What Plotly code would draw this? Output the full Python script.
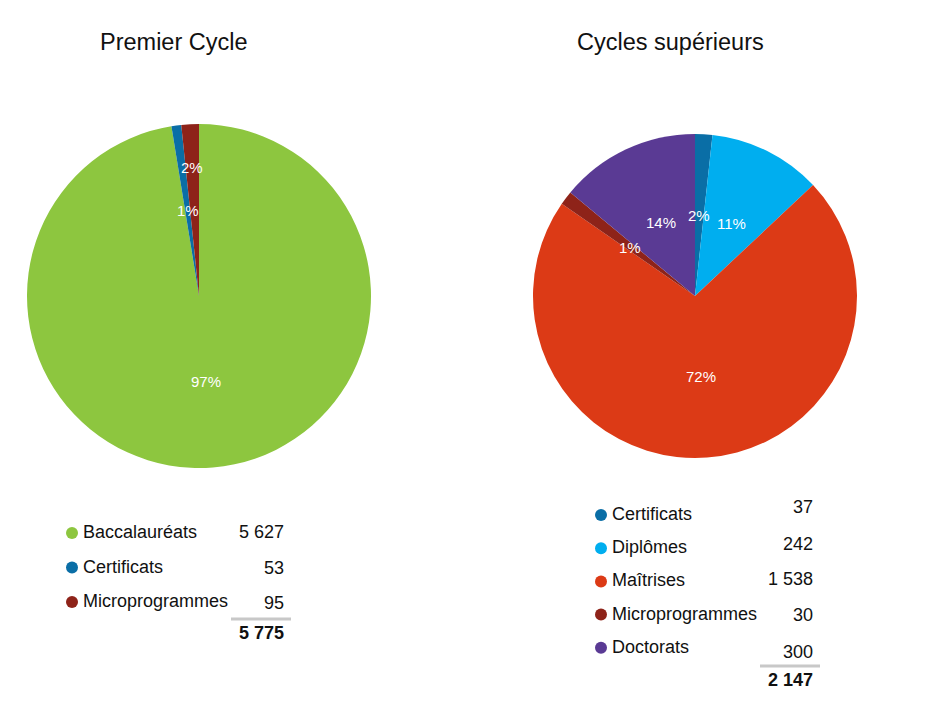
import math
import plotly.graph_objects as go

# Premier cycle
pc_labels = ["Baccalauréats", "Certificats", "Microprogrammes"]
pc_values = [5627, 53, 95]
pc_colors = ["#8DC63F", "#0A6EA6", "#8E2319"]

# Cycles supérieurs
cs_labels = ["Certificats", "Diplômes", "Maîtrises", "Microprogrammes", "Doctorats"]
cs_values = [37, 242, 1538, 30, 300]
cs_colors = ["#0A6EA6", "#00AEEF", "#DC3A16", "#8E2319", "#5A3A94"]

W, H = 946, 722
OFF = 8  # page margin of the browser


def px(x):
    return (x - OFF) / W


def py(y):
    return 1 - (y - OFF) / H


def fmt(n):
    return f"{n:,}".replace(",", " ")


annotations = []
shapes = []
fig = go.Figure()


def pie(labels, values, colors, cx, cy, r, label_r):
    fig.add_trace(go.Pie(
        labels=labels, values=values, sort=False, direction="clockwise",
        rotation=0, marker=dict(colors=colors, line=dict(width=0)),
        textinfo="none", textposition="none",
        domain=dict(x=[px(cx - r), px(cx + r)], y=[py(cy + r), py(cy - r)]),
        showlegend=False, hoverinfo="label+value+percent",
    ))
    # percent labels, placed at the slice mid-angle
    total = sum(values)
    acc = 0
    for i, v in enumerate(values):
        mid = (acc + v / 2) / total * 2 * math.pi
        acc += v
        f = label_r[i]
        annotations.append(dict(
            text=f"{round(100 * v / total)}%", showarrow=False,
            x=px(cx + f * r * math.sin(mid)), y=py(cy - f * r * math.cos(mid)),
            xanchor="center", yanchor="middle",
            font=dict(size=15, color="white")))


pie(pc_labels, pc_values, pc_colors, 199, 296, 172, [0.5, 0.5, 0.75])
pie(cs_labels, cs_values, cs_colors, 695, 296, 162, [0.5] * 5)

annotations += [
    dict(text="Premier Cycle", x=px(174), y=py(42), showarrow=False,
         xanchor="center", yanchor="middle", font=dict(size=23.5, color="#111")),
    dict(text="Cycles supérieurs", x=px(670), y=py(42), showarrow=False,
         xanchor="center", yanchor="middle", font=dict(size=23.5, color="#111")),
]


def table(labels, values, colors, dot_x, val_x, row_y, step, val_dy, line_y, total_y):
    for i, (lab, val, col) in enumerate(zip(labels, values, colors)):
        y = row_y + i * step
        shapes.append(dict(type="circle", xref="paper", yref="paper",
                           x0=px(dot_x - 6), x1=px(dot_x + 6),
                           y0=py(y + 7), y1=py(y - 5),
                           fillcolor=col, line=dict(width=0)))
        annotations.append(dict(text=lab, x=px(dot_x + 9), y=py(y), showarrow=False,
                                xanchor="left", yanchor="middle",
                                font=dict(size=18, color="#111")))
        annotations.append(dict(text=fmt(val), x=px(val_x), y=py(y + val_dy[i]),
                                showarrow=False, xanchor="right", yanchor="middle",
                                font=dict(size=18, color="#111")))
    shapes.append(dict(type="line", xref="paper", yref="paper",
                       x0=px(val_x - 55), x1=px(val_x + 5),
                       y0=py(line_y), y1=py(line_y),
                       line=dict(color="#C8C8C8", width=3)))
    annotations.append(dict(text="<b>" + fmt(sum(values)) + "</b>", x=px(val_x),
                            y=py(total_y), showarrow=False, xanchor="right",
                            yanchor="middle", font=dict(size=18, color="#111")))


table(pc_labels, pc_values, pc_colors, 72, 286, 532, 34.5, [0, 1, 2], 619, 633)
table(cs_labels, cs_values, cs_colors, 601, 815, 514, 33.2, [-7, -3, -1, 1, 5], 666, 680)

fig.update_layout(
    width=W, height=H, margin=dict(l=0, r=0, t=0, b=0),
    paper_bgcolor="white", plot_bgcolor="white",
    font=dict(family="Liberation Sans, Arial, sans-serif"),
    annotations=annotations, shapes=shapes,
)

fig.write_html("out.html")
